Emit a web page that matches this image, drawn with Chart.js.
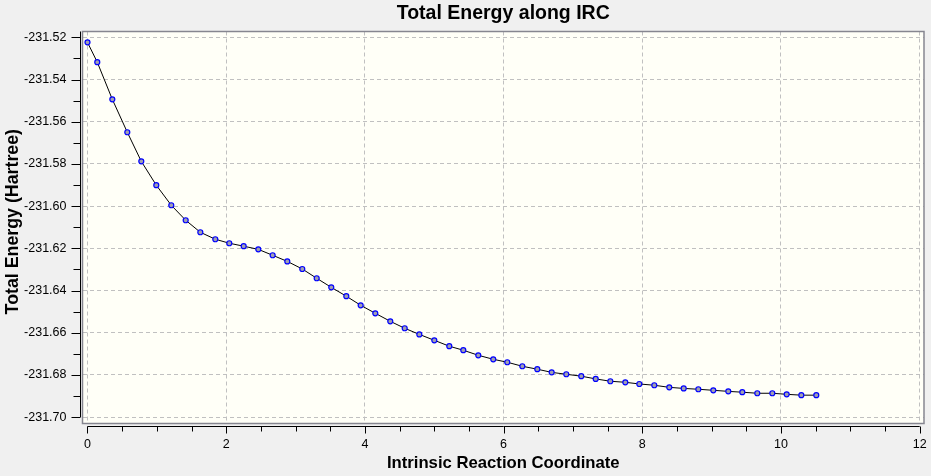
<!DOCTYPE html>
<html>
<head>
<meta charset="utf-8">
<script src="https://cdn.jsdelivr.net/npm/chart.js@4.4.1/dist/chart.umd.min.js"></script>
<style>
  html, body { margin: 0; padding: 0; background: #F0F0F0; }
  canvas { display: block; }
</style>
</head>
<body>
<canvas id="c" width="931" height="476"></canvas>
<script>
// ---- data ----
const ircCoordinate = [0, 0.141, 0.358, 0.574, 0.776, 0.992, 1.208,
  1.416, 1.627, 1.843, 2.045, 2.252, 2.463, 2.670, 2.881, 3.097, 3.305,
  3.515, 3.732, 3.939,
  4.150, 4.366, 4.574, 4.785, 5.001, 5.217, 5.419, 5.635, 5.851, 6.053, 6.270, 6.486, 6.693, 6.904, 7.120, 7.328,
  7.539, 7.755, 7.957, 8.173, 8.389, 8.597, 8.808, 9.024, 9.240, 9.442, 9.658, 9.875, 10.082, 10.293, 10.509];
const totalEnergy = [-231.5224, -231.5318, -231.5494, -231.5650, -231.5788, -231.5901, -231.5996,
  -231.6067, -231.6124, -231.6157, -231.6176, -231.6190, -231.6205, -231.6233, -231.6262, -231.6298, -231.6342,
  -231.6385, -231.6427, -231.6470,
  -231.6508, -231.6546, -231.6579, -231.6608, -231.6636, -231.6664, -231.6683, -231.6707, -231.6726, -231.6740,
  -231.6759, -231.6773, -231.6788, -231.6797, -231.6806, -231.6819,
  -231.6830, -231.6835, -231.6843, -231.6849, -231.6859, -231.6864, -231.6868, -231.6873, -231.6878, -231.6882,
  -231.6887, -231.6887, -231.6892, -231.6896, -231.6896];
const xTickValues = [0, 2, 4, 6, 8, 10, 12];
const xMinorTickValues = [0.5, 1, 1.5, 2.5, 3, 3.5, 4.5, 5, 5.5, 6.5, 7, 7.5, 8.5, 9, 9.5, 10.5, 11, 11.5];
const yTickValues = [-231.52, -231.54, -231.56, -231.58, -231.60, -231.62, -231.64, -231.66, -231.68, -231.70];
const yMinorTickValues = [-231.53, -231.55, -231.57, -231.59, -231.61, -231.63, -231.65, -231.67, -231.69];
const chartTitle = 'Total Energy along IRC';
const xTitle = 'Intrinsic Reaction Coordinate';
const yTitle = 'Total Energy (Hartree)';

const FONT = "'Liberation Sans', Arial, sans-serif";

const points = ircCoordinate.map((x, i) => ({ x: x, y: totalEnergy[i] }));

const framePlugin = {
  id: 'frame',
  beforeDraw(chart) {
    const { ctx, chartArea: a } = chart;
    ctx.save();
    ctx.fillStyle = '#FFFFF7';
    ctx.fillRect(a.left, a.top, a.right - a.left, a.bottom - a.top);
    ctx.restore();
  },
  afterDraw(chart) {
    const { ctx, chartArea: a } = chart;
    const xs = chart.scales.x, ys = chart.scales.y;
    ctx.save();
    // frame
    ctx.strokeStyle = '#868690';
    ctx.lineWidth = 1.5;
    ctx.strokeRect(a.left, a.top, a.right - a.left, a.bottom - a.top);
    // axes lines and tick marks
    ctx.strokeStyle = '#000000';
    ctx.lineWidth = 1;
    const ax = Math.round(a.left) - 3 + 0.5;
    const ay = Math.round(a.bottom) + 2 + 0.5;
    ctx.beginPath();
    ctx.moveTo(ax, a.top);
    ctx.lineTo(ax, ys.getPixelForValue(yTickValues[yTickValues.length - 1]));
    ctx.moveTo(xs.getPixelForValue(xTickValues[0]), ay);
    ctx.lineTo(xs.getPixelForValue(xTickValues[xTickValues.length - 1]), ay);
    yTickValues.forEach(v => { const p = Math.round(ys.getPixelForValue(v)) + 0.5; ctx.moveTo(ax, p); ctx.lineTo(ax - 9, p); });
    yMinorTickValues.forEach(v => { const p = Math.round(ys.getPixelForValue(v)) + 0.5; ctx.moveTo(ax, p); ctx.lineTo(ax - 7, p); });
    xTickValues.forEach(v => { const p = Math.round(xs.getPixelForValue(v)) + 0.5; ctx.moveTo(p, ay); ctx.lineTo(p, ay + 7); });
    xMinorTickValues.forEach(v => { const p = Math.round(xs.getPixelForValue(v)) + 0.5; ctx.moveTo(p, ay); ctx.lineTo(p, ay + 5); });
    ctx.stroke();
    // y axis title (rotated), centred where the reference places it
    ctx.fillStyle = '#000000';
    ctx.font = "bold 17.8px " + FONT;
    ctx.textAlign = 'center';
    ctx.textBaseline = 'middle';
    ctx.translate(13, (a.top + a.bottom) / 2 - 5.8);
    ctx.rotate(-Math.PI / 2);
    ctx.fillText(yTitle, 0, 0);
    ctx.restore();
  }
};

new Chart(document.getElementById('c'), {
  type: 'line',
  data: {
    datasets: [{
      data: points,
      borderColor: '#000000',
      borderWidth: 1,
      tension: 0,
      fill: false,
      pointRadius: 2.5,
      pointBorderWidth: 1.2,
      pointBorderColor: '#0000FF',
      pointBackgroundColor: '#A0A0B0',
      pointHoverRadius: 2.5
    }]
  },
  options: {
    responsive: false,
    animation: false,
    devicePixelRatio: 1,
    layout: { padding: { left: 0, right: 7, top: 0, bottom: 0 } },
    plugins: {
      legend: { display: false },
      tooltip: { enabled: false },
      title: {
        display: true,
        fullSize: false,
        text: chartTitle,
        color: '#000000',
        font: { family: FONT, size: 19.5, weight: 'bold' },
        padding: { top: 2, bottom: 6.1 }
      }
    },
    scales: {
      x: {
        type: 'linear',
        min: -0.072,
        max: 12.062,
        afterBuildTicks(scale) { scale.ticks = xTickValues.map(v => ({ value: v })); },
        afterFit(scale) { scale.height = 52.5; scale.paddingLeft = 0; scale.paddingRight = 0; },
        ticks: {
          color: '#000000',
          font: { family: FONT, size: 12.5 },
          padding: 14,
          maxRotation: 0,
          autoSkip: false,
          callback: v => String(v)
        },
        grid: { color: '#C0C0C0', lineWidth: 1, drawTicks: false },
        border: { display: false, dash: [4, 3] },
        title: {
          display: true,
          text: xTitle,
          color: '#000000',
          font: { family: FONT, size: 16.7, weight: 'bold' },
          padding: { top: 0, bottom: 2.5 }
        }
      },
      y: {
        type: 'linear',
        min: -231.70303,
        max: -231.51725,
        afterBuildTicks(scale) { scale.ticks = yTickValues.map(v => ({ value: v })); },
        afterFit(scale) { scale.width = 82.5; scale.paddingTop = 0; scale.paddingBottom = 0; },
        ticks: {
          color: '#000000',
          font: { family: FONT, size: 12.5 },
          padding: 16,
          autoSkip: false,
          callback: v => Number(v).toFixed(2)
        },
        grid: { color: '#C0C0C0', lineWidth: 1, drawTicks: false },
        border: { display: false, dash: [4, 3] },
        title: { display: false, text: yTitle }
      }
    }
  },
  plugins: [framePlugin]
});
</script>
</body>
</html>
